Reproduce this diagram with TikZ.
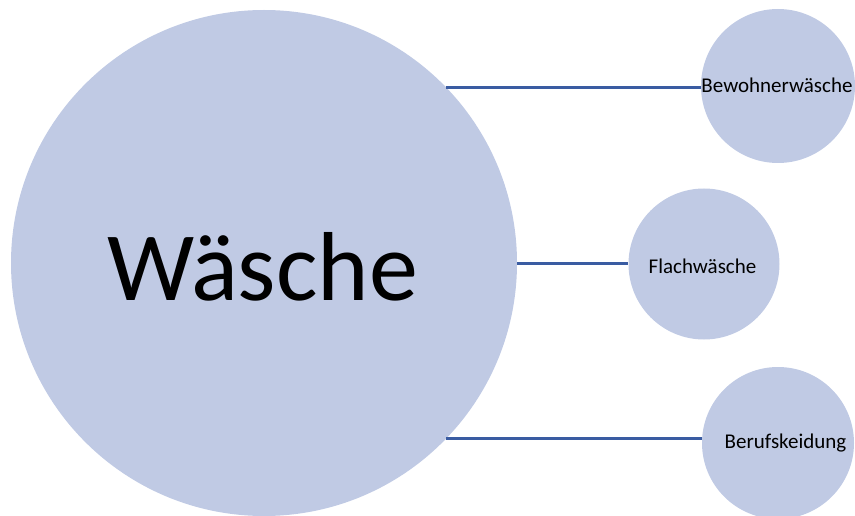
\documentclass[tikz,border=0pt]{standalone}
\usepackage{fontspec}
\setmainfont{Carlito}
\definecolor{bubble}{RGB}{192,202,228}
\definecolor{link}{RGB}{58,92,162}
\begin{document}
\begin{tikzpicture}[x=1pt,y=-1pt,
  bubble/.style={circle,fill=bubble,inner sep=0pt,draw=none},
  conn/.style={draw=link,line width=3pt},
  small/.style={font=\fontsize{21}{25}\selectfont,anchor=base,inner sep=0pt}]
\useasboundingbox (0,0) rectangle (855,516);
\node[bubble,minimum size=506pt] (big) at (264,263) {};
\node[bubble,minimum size=154pt] (b1) at (778,86) {};
\node[bubble,minimum size=151pt] (b2) at (704,264) {};
\node[bubble,minimum size=152pt] (b3) at (778,443) {};
\node[anchor=base,inner sep=0pt,font=\fontsize{98}{110}\selectfont] (tbig) at (262.5,300) {Wäsche};
\node[small] (t1) at (777,93) {Bewohnerwäsche};
\node[small] (t2) at (702.5,273) {Flachwäsche};
\node[small] (t3) at (785.5,448) {Berufskeidung};
\draw[conn] (big.44.8) -- (big.44.8 -| b1.west);
\draw[conn] (big.east) -- (big.east -| b2.west);
\draw[conn] (big.-44.8) -- (big.-44.8 -| b3.west);
\end{tikzpicture}
\end{document}
